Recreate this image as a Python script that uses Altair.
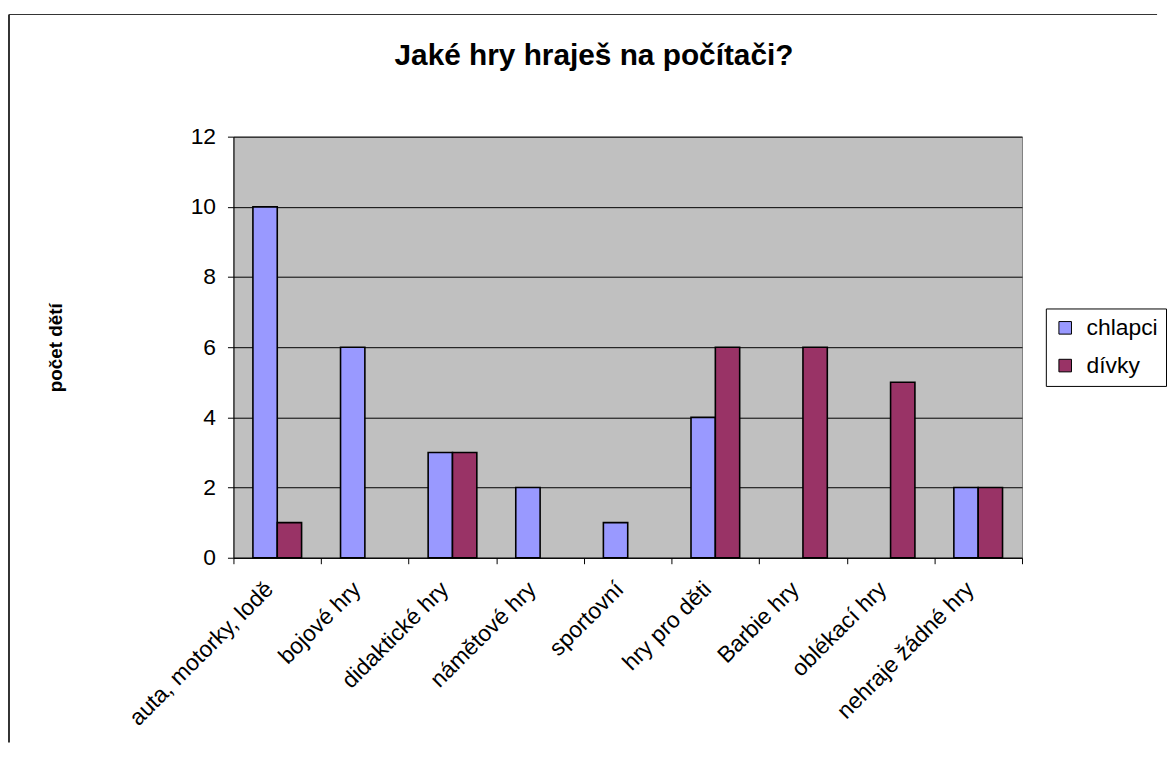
import altair as alt
import pandas as pd

categories = ["auta, motorky, lodě", "bojové hry", "didaktické hry", "námětové hry",
              "sportovní", "hry pro děti", "Barbie hry", "oblékací hry", "nehraje žádné hry"]
chlapci = [10, 6, 3, 2, 1, 4, 0, 0, 2]
divky = [1, 0, 3, 0, 0, 6, 6, 5, 2]
series = ["chlapci", "dívky"]
colors = ["#9999FF", "#993366"]

rows = []
for c, a, b in zip(categories, chlapci, divky):
    rows.append({"kat": c, "s": "chlapci", "v": a})
    rows.append({"kat": c, "s": "dívky", "v": b})
df = pd.DataFrame(rows)

FONT = "Liberation Sans"

bars = alt.Chart(df).transform_filter("datum.v > 0").mark_bar(
    stroke="black", strokeWidth=1.6
).encode(
    x=alt.X("kat:N", sort=categories,
            scale=alt.Scale(paddingInner=0, paddingOuter=0),
            axis=alt.Axis(title=None, labelAngle=-45, labelAlign="right", labelBaseline="top",
                          labelFontSize=23, labelFont=FONT, labelColor="black",
                          labelPadding=14, labelOffset=-16, tickBand="extent", tickSize=6,
                          tickColor="black", domainColor="black", labelLimit=400)),
    xOffset=alt.XOffset("s:N", scale=alt.Scale(domain=series, paddingOuter=0.8, paddingInner=0)),
    y=alt.Y("v:Q", scale=alt.Scale(domain=[0, 12]),
            axis=alt.Axis(title="počet dětí", values=[0, 2, 4, 6, 8, 10, 12],
                          labelFontSize=23, labelFont=FONT, labelColor="black", labelPadding=12,
                          tickSize=6, tickColor="black", domainColor="black",
                          gridColor="black", gridWidth=1,
                          titleFont=FONT, titleFontSize=19, titleFontWeight="bold",
                          titleColor="black", titleX=-179, titleY=212, titleBaseline="middle",
                          titleAngle=-90)),
    color=alt.Color("s:N", scale=alt.Scale(domain=series, range=colors),
                    legend=alt.Legend(title=None, orient="none", legendX=818, legendY=173,
                                      symbolType="square", symbolSize=160,
                                      symbolStrokeColor="black", symbolStrokeWidth=1,
                                      labelFontSize=23, labelFont=FONT, labelColor="black",
                                      labelOffset=10,
                                      strokeColor="black", padding=8, rowPadding=14,
                                      fillColor="white")),
)

border_data = alt.Data(values=[{"a": 1}])
left_line = alt.Chart(border_data).mark_rule(color="#333333", strokeWidth=2, clip=False).encode(
    x=alt.value(-226), y=alt.value(-123), y2=alt.value(610))
top_line = alt.Chart(border_data).mark_rule(color="#333333", strokeWidth=1, clip=False).encode(
    x=alt.value(-226), x2=alt.value(930), y=alt.value(-123))

chart = alt.layer(bars, left_line, top_line).properties(
    width=794, height=424,
    title=alt.TitleParams("Jaké hry hraješ na počítači?", font=FONT, fontSize=30,
                          fontWeight="bold", color="black", frame="group", anchor="middle",
                          dx=-34, offset=-58),
    padding={"top": 3, "left": 0, "right": 0, "bottom": 0},
    background="white",
).configure_view(fill="#C0C0C0", stroke="#808080")

chart.save("out.html", embed_options={"renderer": "svg", "actions": False})
